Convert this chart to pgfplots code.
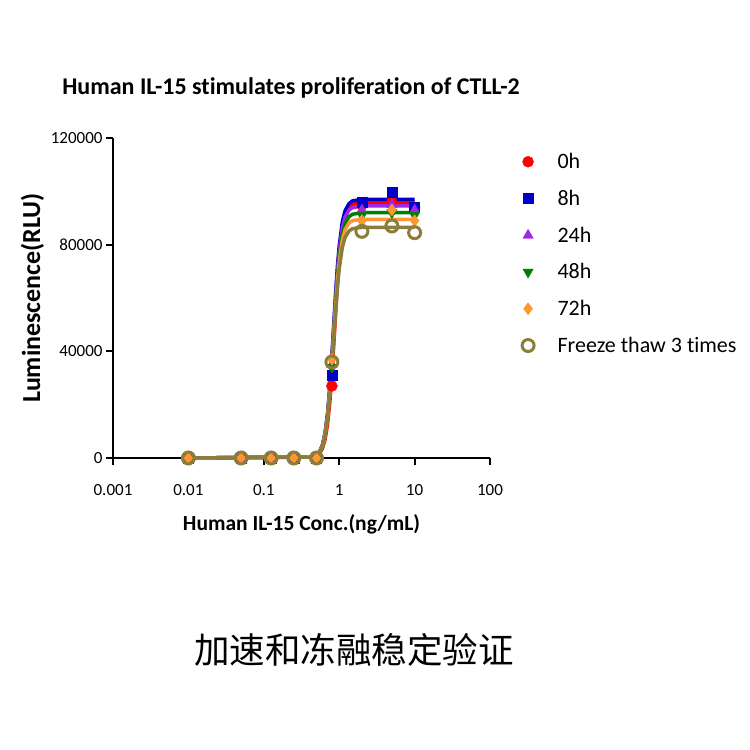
\documentclass[border=0pt]{standalone}
\usepackage{fontspec}
\setmainfont{Carlito}[Ligatures=NoCommon]
\newfontfamily\cjk{Noto Sans CJK SC}
\usepackage{pgfplots}
\usepackage{pgfplotstable}
\pgfplotsset{compat=1.18}

\definecolor{cRed}{RGB}{255,0,0}
\definecolor{cBlue}{RGB}{0,0,200}
\definecolor{cPurple}{RGB}{160,40,230}
\definecolor{cGreen}{RGB}{0,128,0}
\definecolor{cOrange}{RGB}{255,150,50}
\definecolor{cOlive}{RGB}{140,125,60}

% fitted curves
\pgfplotstableread{
x     h0    h8    h24   h48   h72   ft
0.01  0     0     0     0     0     0
0.45  310   420   410   400   390   380
0.5   770   1050  1020  990   970   930
0.55  1750  2380  2320  2250  2190  2120
0.6   3650  4930  4800  4670  4550  4390
0.65  7050  9400  9160  8910  8670  8380
0.7   12600 16500 16100 15600 15200 14700
0.75  20700 26400 25700 25000 24300 23500
0.8   31200 38300 37300 36300 35400 34200
0.85  43200 51000 49700 48400 47100 45500
0.9   55000 62700 61000 59400 57800 55900
0.95  65600 72300 70400 68500 66700 64400
1.0   73900 79500 77500 75400 73400 70900
1.1   85000 88600 86300 84000 81700 79000
1.2   90500 92800 90400 88000 85700 82800
1.35  94000 95400 93000 90500 88100 85100
1.5   95100 96400 93900 91400 89000 86000
2     95900 97000 94500 92000 89500 86500
10    96000 97000 94500 92000 89500 86500
}\curves

% measured points
\pgfplotstableread{
x     h0    h8    h24   h48   h72   ft
0.01  0     0     0     0     0     0
0.05  0     0     0     0     0     0
0.125 0     0     0     0     0     0
0.25  0     0     0     0     0     0
0.5   0     0     0     0     0     0
0.8   27000 31000 35000 34000 37000 36000
2     95000 96000 93000 91000 89000 85000
5     96000 99500 95000 92000 93000 87000
10    94000 94000 93000 91000 89000 84500
}\points

\begin{document}
\begin{tikzpicture}[x=1bp,y=1bp]
\path (0,0) rectangle (750,750);

\node[font=\fontsize{24bp}{28bp}\selectfont\bfseries] at (291,662) {Human IL-15 stimulates proliferation of CTLL-2};
\node[font=\cjk\fontsize{35.5bp}{40bp}\selectfont] at (354,100) {加速和冻融稳定验证};

\begin{axis}[
  at={(113bp,292bp)}, anchor=south west,
  scale only axis, width=377bp, height=320bp,
  xmode=log, xmin=0.001, xmax=100,
  ymin=0, ymax=120000,
  axis x line*=bottom, axis y line*=left,
  axis line style={line width=2bp},
  every tick/.style={line width=2bp, black},
  tick align=outside, major tick length=7bp,
  xtick={0.001,0.01,0.1,1,10,100},
  xticklabels={0.001,0.01,0.1,1,10,100},
  xminorticks=false,
  ytick={0,40000,80000,120000},
  yticklabels={0,40000,80000,120000},
  scaled y ticks=false,
  ticklabel style={font=\fontsize{17bp}{20bp}\selectfont},
  xticklabel style={yshift=-16bp},
  xlabel={Human IL-15 Conc.(ng/mL)},
  ylabel={Luminescence(RLU)},
  xlabel style={font=\fontsize{21.5bp}{25bp}\selectfont\bfseries, yshift=-12bp},
  ylabel style={font=\fontsize{26bp}{30bp}\selectfont\bfseries},
  legend style={draw=none, fill=none, at={(1.07,0.965)}, anchor=north west,
    font=\fontsize{22bp}{26bp}\selectfont, row sep=16bp},
  legend image code/.code={\draw[#1] plot coordinates {(0bp,0bp)}; \path (-7bp,0bp) (26bp,0bp);},
  legend cell align=left,
  clip=false,
]
\addplot[cRed, line width=3.5bp, forget plot] table[x=x,y=h0] {\curves};
\addplot[cBlue, line width=3.5bp, forget plot] table[x=x,y=h8] {\curves};
\addplot[cPurple, line width=3.5bp, forget plot] table[x=x,y=h24] {\curves};
\addplot[cGreen, line width=3.5bp, forget plot] table[x=x,y=h48] {\curves};
\addplot[cOrange, line width=3.5bp, forget plot] table[x=x,y=h72] {\curves};
\addplot[cOlive, line width=3.5bp, forget plot] table[x=x,y=ft] {\curves};

\addplot[only marks, mark=*, mark size=5.5bp, cRed] table[x=x,y=h0] {\points};
\addplot[only marks, mark=square*, mark size=5bp, cBlue] table[x=x,y=h8] {\points};
\addplot[only marks, mark=triangle*, mark size=6bp, cPurple] table[x=x,y=h24] {\points};
\addplot[only marks, mark=triangle*, mark options={rotate=180}, mark size=6bp, cGreen] table[x=x,y=h48] {\points};
\addplot[only marks, mark=diamond*, mark size=6bp, cOrange] table[x=x,y=h72] {\points};
\addplot[only marks, mark=o, mark size=6bp, line width=3bp, cOlive] table[x=x,y=ft] {\points};
\legend{0h,8h,24h,48h,72h,Freeze thaw 3 times}
\end{axis}
\end{tikzpicture}
\end{document}
